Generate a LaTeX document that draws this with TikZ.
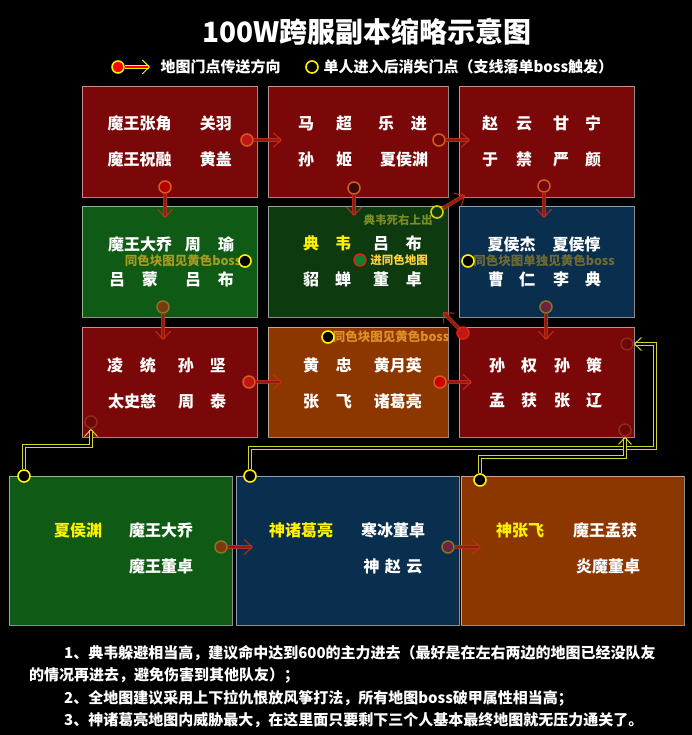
\documentclass[tikz,border=0pt]{standalone}
\usepackage{fontspec}
\setmainfont{Noto Sans CJK SC}
\usetikzlibrary{arrows.meta}
\definecolor{roomred}{HTML}{7A0808}
\definecolor{roomgreen}{HTML}{0F5A15}
\definecolor{roomnight}{HTML}{0E3A10}
\definecolor{roomblue}{HTML}{0A2E4E}
\definecolor{roomorange}{HTML}{8C3700}
\definecolor{ringorange}{HTML}{D85A20}
\definecolor{ringdark}{HTML}{8E2A18}
\definecolor{ringolive}{HTML}{857524}
\definecolor{ringred}{HTML}{E02010}
\definecolor{fillred}{HTML}{C01616}
\definecolor{filldark}{HTML}{6E0707}
\definecolor{fillbrown}{HTML}{7A3A10}
\definecolor{fillplum}{HTML}{702040}
\definecolor{fillgreen}{HTML}{108030}
\definecolor{fillnight}{HTML}{3A0A05}
\definecolor{portalred}{HTML}{C8301A}
\definecolor{portalcore}{HTML}{8A1A10}
\definecolor{lanecol}{HTML}{D8D428}
\definecolor{hintyellow}{HTML}{A89A20}
\definecolor{hintolive}{HTML}{7A8C24}
\definecolor{hintdim}{HTML}{6E6A34}
\definecolor{hintorange}{HTML}{E0902A}
\definecolor{hintgold}{HTML}{FFD040}

\tikzset{
  room/.style={draw=white, draw opacity=0.55, line width=0.9pt, inner sep=0pt},
  hero/.style={text=white, font=\bfseries\fontsize{16}{16}\selectfont, inner sep=0pt},
  boss/.style={hero, text=yellow},
  hint/.style={font=\bfseries\fontsize{12.5}{12.5}\selectfont, inner sep=0pt},
  door/.style={circle, draw=ringorange, fill=fillred, line width=1.5pt, minimum size=12pt, inner sep=0pt},
  solo/.style={circle, draw=yellow, fill=black, line width=1.6pt, minimum size=12pt, inner sep=0pt},
  portal/.style={draw=portalred, double=portalcore, double distance=1.8pt, line width=1.1pt, draw opacity=0.85, -{Straight Barb[length=8pt,width=15pt]}},
  lane/.style={draw=lanecol, double=black, double distance=2pt, line width=1pt, -{Straight Barb[length=7pt,width=13pt]}},
  note/.style={text=white, font=\bfseries\fontsize{15}{15}\selectfont, inner sep=0pt, anchor=west}
}

\begin{document}
\begin{tikzpicture}[x=1pt,y=-1pt]
\fill[black] (0,0) rectangle (692,735);
\useasboundingbox (0,0) rectangle (692,735);

\node[text=white, font=\bfseries\fontsize{28}{28}\selectfont] (title) at (367,32) {100W跨服副本缩略示意图};

\node[door, draw=yellow, fill=red] (lgdoor) at (118,67) {};
\draw[draw=yellow, double=red, double distance=2.4pt, line width=1pt, -{Straight Barb[length=7pt,width=14pt]}] (lgdoor) -- ++(32,0);
\node[text=white, font=\bfseries\fontsize{15}{15}\selectfont, anchor=west] (lgportal) at (157,67) {地图门点传送方向};
\node[solo] (lgsolo) at (312,67) {};
\node[text=white, font=\bfseries\fontsize{15}{15}\selectfont, anchor=west] (lgtext) at (320,67) {单人进入后消失门点（支线落单boss触发）};

% rooms
\node[room, fill=roomred, minimum width=175pt, minimum height=111pt] (zhangjiao) at (169.5,141.5) {};
\node[room, fill=roomred, minimum width=180pt, minimum height=111pt] (machao) at (358,141.5) {};
\node[room, fill=roomred, minimum width=175pt, minimum height=111pt] (zhaoyun) at (546.5,141.5) {};
\node[room, fill=roomgreen, minimum width=175pt, minimum height=111pt] (daqiao) at (169.5,261.5) {};
\node[room, fill=roomnight, minimum width=180pt, minimum height=111pt] (dianwei) at (358,261.5) {};
\node[room, fill=roomblue, minimum width=175pt, minimum height=111pt] (xiahoujie) at (546.5,261.5) {};
\node[room, fill=roomred, minimum width=175pt, minimum height=110pt] (lingtong) at (169.5,382) {};
\node[room, fill=roomorange, minimum width=180pt, minimum height=110pt] (huangzhong) at (358,382) {};
\node[room, fill=roomred, minimum width=175pt, minimum height=110pt] (sunquan) at (546.5,382) {};
\node[room, fill=roomgreen, minimum width=223pt, minimum height=149pt] (xiahouyuan) at (120.5,550.5) {};
\node[room, fill=roomblue, minimum width=223pt, minimum height=149pt] (zhuge) at (347.5,550.5) {};
\node[room, fill=roomorange, minimum width=223pt, minimum height=149pt] (zhangfei) at (572.5,550.5) {};

% names
\node[hero] (zhangjiao1) at (169.75,123) {魔王张角\hspace{28.5pt}关羽};
\node[hero] (zhangjiao2) at (169.75,159) {魔王祝融\hspace{28.5pt}黄盖};
\node[hero] (machao1) at (362.5,123) {马\hspace{22pt}超\hspace{26pt}乐\hspace{17pt}进};
\node[hero] (machao2) at (363,159) {孙\hspace{22pt}姬\hspace{28pt}夏侯渊};
\node[hero] (zhaoyun1) at (541.5,123) {赵\hspace{18pt}云\hspace{21pt}甘\hspace{16pt}宁};
\node[hero] (zhaoyun2) at (541.5,159) {于\hspace{18pt}禁\hspace{21pt}严\hspace{16pt}颜};
\node[hero] (daqiao1) at (171,244) {魔王大乔\hspace{13pt}周\hspace{17pt}瑜};
\node[hero] (daqiao2) at (171.5,279) {吕\hspace{17pt}蒙\hspace{27pt}吕\hspace{17pt}布};
\node[hero] (dianwei1) at (362.5,243) {\color{yellow}典\hspace{16pt}韦\hspace{22pt}\color{white}吕\hspace{17pt}布};
\node[hero] (dianwei2) at (362.5,279) {貂\hspace{16pt}蝉\hspace{22pt}董\hspace{17pt}卓};
\node[hero] (xiahoujie1) at (544,244) {夏侯杰\hspace{17pt}夏侯惇};
\node[hero] (xiahoujie2) at (544.5,279) {曹\hspace{15pt}仁\hspace{18pt}李\hspace{16pt}典};
\node[hero] (lingtong1) at (166.5,365) {凌\hspace{17pt}统\hspace{22pt}孙\hspace{16pt}坚};
\node[hero] (lingtong2) at (167,401) {太史慈\hspace{22pt}周\hspace{16pt}泰};
\node[hero] (huangzhong1) at (362.5,365) {黄\hspace{17pt}忠\hspace{22pt}黄月英};
\node[hero] (huangzhong2) at (362.5,401) {张\hspace{17pt}飞\hspace{22pt}诸葛亮};
\node[hero] (sunquan1) at (545.5,365) {孙\hspace{16pt}权\hspace{17pt}孙\hspace{16pt}策};
\node[hero] (sunquan2) at (545.5,401) {孟\hspace{16pt}获\hspace{17pt}张\hspace{16pt}辽};
\node[boss] (xiahouyuan1) at (78,530) {夏侯渊};
\node[hero] (xiahouyuan2) at (161,530) {魔王大乔};
\node[hero] (xiahouyuan3) at (161,566) {魔王董卓};
\node[boss] (zhuge1) at (301,530) {神诸葛亮};
\node[hero] (zhuge2) at (393,530) {寒冰董卓};
\node[hero] (zhuge3) at (393,566) {神\hspace{5.5pt}赵\hspace{5.5pt}云};
\node[boss] (zhangfei1) at (520,530) {神张飞};
\node[hero] (zhangfei2) at (605,530) {魔王孟获};
\node[hero] (zhangfei3) at (608,566) {炎魔董卓};

% hints
\node[hint, text=hintyellow] (daqiaohint) at (183,261) {同色块图见黄色boss};
\node[hint, text=hintolive, font=\bfseries\fontsize{11.5}{11.5}\selectfont] (dianweihint) at (398,220) {典韦死右上出};
\node[hint, text=hintgold, font=\bfseries\fontsize{11.5}{11.5}\selectfont] (dianweigate) at (399,260) {进同色地图};
\node[hint, text=hintdim] (xiahoujiehint) at (544,261) {同色块图单独见黄色boss};
\node[hint, text=hintorange] (huangzhonghint) at (391,337) {同色块图见黄色boss};

% door points
\node[door] (dAr) at (247,140) {};
\node[door, fill=red!70!black] (dAb) at (165,187) {};
\node[door, fill=filldark] (dBr) at (439,140) {};
\node[door, fill=fillnight] (dBb) at (354,188) {};
\node[door, fill=filldark] (dCb) at (544,186) {};
\node[door, draw=ringolive, fill=fillbrown] (dDb) at (163,307) {};
\node[door, draw=ringred, fill=fillgreen] (dEm) at (360,260) {};
\node[door, draw=ringolive, fill=fillplum] (dFb) at (546,307) {};
\node[door] (dGr) at (249,382) {};
\node[door, draw=ringdark, fill=filldark] (dGbl) at (91,422) {};
\node[door, fill=red!80!black] (dHr) at (440,382) {};
\node[door, draw=ringred] (dItl) at (463,333) {};
\node[door, draw=ringdark, fill=filldark] (dItr) at (627,344) {};
\node[door, draw=ringdark, fill=filldark] (dIbr) at (625,430) {};
\node[door, draw=ringolive, fill=fillbrown] (dJr) at (221,547) {};
\node[door, draw=ringolive, fill=fillplum] (dKr) at (448,547) {};

\node[solo] (yD) at (245,261) {};
\node[solo, draw=yellow!70!olive, fill=roomnight] (yE) at (437,212) {};
\node[solo] (yF) at (468,261) {};
\node[solo] (yH) at (328,337) {};
\node[solo] (yJ) at (24,476) {};
\node[solo] (yK) at (250,476) {};
\node[solo] (yL) at (480,480) {};

% portals
\draw[portal] (dAr) -- ++(35,0);
\draw[portal] (dBr) -- ++(31,0);
\draw[portal] (dAb) -- ++(0,31);
\draw[portal] (dBb) -- ++(0,28);
\draw[portal] (dCb) -- ++(0,32);
\draw[portal] (yE) -- ++(28,-17);
\draw[portal] (dItl) -- ++(-20,-21);
\draw[portal] (dDb) -- ++(0,33);
\draw[portal] (dFb) -- ++(0,33);
\draw[portal] (dGr) -- ++(33,0);
\draw[portal] (dHr) -- ++(32,0);
\draw[portal] (dJr) -- ++(32,0);
\draw[portal] (dKr) -- ++(33,0);

% solo lanes
\draw[lane] (yJ.north) -- ++(0,-23) -| (dGbl.south);
\draw[lane] (yK.north) -- ++(0,-21) -- ++(405,0) |- (dItr.east);
\draw[lane] (yL.north) -- ++(0,-16) -| (dIbr.south);

% notes
\node[note] (note1) at (64,653) {1、典韦躲避相当高，建议命中达到600的主力进去（最好是在左右两边的地图已经没队友};
\node[note] (note1b) at (29,675) {的情况再进去，避免伤害到其他队友）；};
\node[note] (note2) at (64,698) {2、全地图建议采用上下拉仇恨放风筝打法，所有地图boss破甲属性相当高；};
\node[note] (note3) at (64,720) {3、神诸葛亮地图内威胁最大，在这里面只要剩下三个人基本最终地图就无压力通关了。};
\end{tikzpicture}
\end{document}
